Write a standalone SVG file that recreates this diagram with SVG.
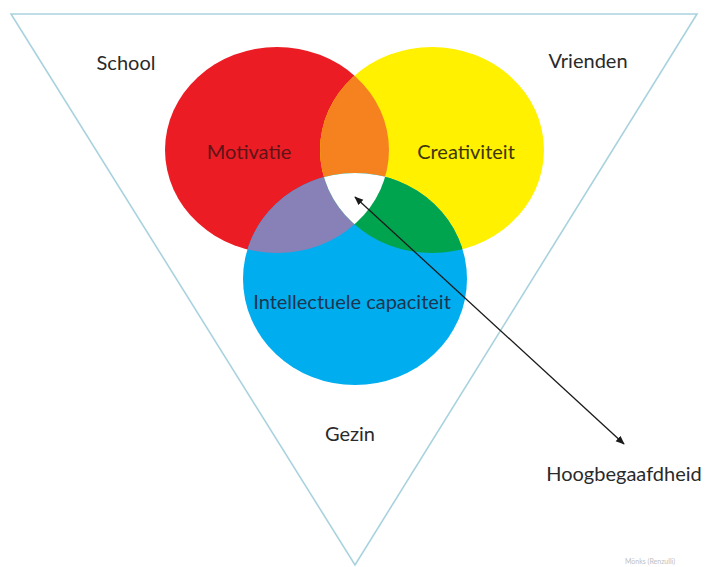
<svg xmlns="http://www.w3.org/2000/svg" width="707" height="567" viewBox="0 0 707 567">
<style>
.lbl{font-family:Lato,"Open Sans","Liberation Sans",sans-serif;font-size:20px;text-anchor:middle;}
.tri{fill:#ffffff;stroke:#a9d2df;stroke-width:1.6;}
</style>
<defs>
<clipPath id="cRed"><ellipse cx="277" cy="150" rx="112" ry="103"/></clipPath>
<clipPath id="cYel"><ellipse cx="432" cy="150" rx="112" ry="103"/></clipPath>
<marker id="ah" viewBox="0 0 10 10" refX="9" refY="5" markerWidth="9" markerHeight="9" orient="auto-start-reverse" markerUnits="userSpaceOnUse"><path d="M0,1 L10,5 L0,9 z" fill="#1a1a1a"/></marker>
</defs>
<rect width="707" height="567" fill="#ffffff"/>
<polygon id="triangle" class="tri" points="11,14 697,14 355,565"/>
<g id="venn">
<g id="motivatie"><ellipse cx="277" cy="150" rx="112" ry="103" fill="#ec1c24"/></g>
<g id="creativiteit"><ellipse cx="432" cy="150" rx="112" ry="103" fill="#fff100"/></g>
<g id="intellect"><ellipse cx="355" cy="279" rx="112" ry="106" fill="#00adef"/></g>
<g clip-path="url(#cRed)"><ellipse cx="432" cy="150" rx="112" ry="103" fill="#f5821f"/></g>
<g clip-path="url(#cRed)"><ellipse cx="355" cy="279" rx="112" ry="106" fill="#8781b8"/></g>
<g clip-path="url(#cYel)"><ellipse cx="355" cy="279" rx="112" ry="106" fill="#00a44f"/></g>
<g clip-path="url(#cRed)"><g clip-path="url(#cYel)"><ellipse cx="355" cy="279" rx="112" ry="106" fill="#ffffff"/></g></g>
</g>
<g id="connectors">
<line x1="355" y1="197" x2="624" y2="444" stroke="#1a1a1a" stroke-width="1.3" marker-start="url(#ah)" marker-end="url(#ah)"/>
</g>
<g id="labels">
<text class="lbl" x="249" y="159" fill="#5c1418">Motivatie</text>
<text class="lbl" x="466" y="159" fill="#3d3608">Creativiteit</text>
<text class="lbl" x="352" y="309" fill="#1d3550">Intellectuele capaciteit</text>
<text class="lbl" x="126" y="70" fill="#2a2a2a">School</text>
<text class="lbl" x="588" y="68" fill="#2a2a2a">Vrienden</text>
<text class="lbl" x="350" y="441" fill="#2a2a2a">Gezin</text>
<text class="lbl" x="624" y="481" fill="#2a2a2a">Hoogbegaafdheid</text>
<text x="650" y="564" font-family="Lato,'Liberation Sans',sans-serif" font-size="7" fill="#c0c0c0" text-anchor="middle">Mönks (Renzulli)</text>
</g>
</svg>
